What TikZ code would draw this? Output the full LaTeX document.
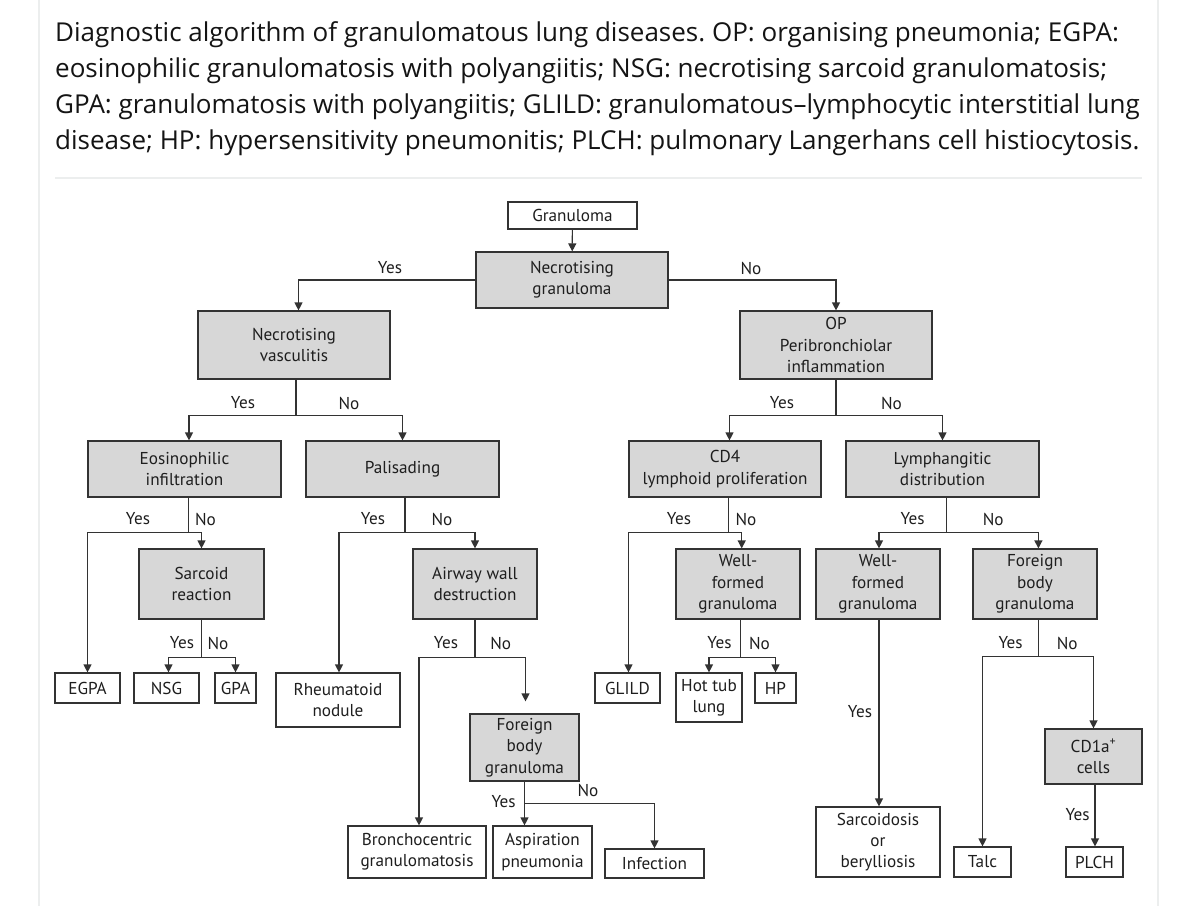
\documentclass[tikz,border=0pt]{standalone}
\usepackage{fontspec}
\setmainfont{Open Sans}
\newfontfamily\dfont{PT Sans}
\usetikzlibrary{arrows.meta}
\definecolor{boxgray}{HTML}{D7D7D7}
\definecolor{linec}{HTML}{333333}
\definecolor{txt}{HTML}{1E1E1E}
\definecolor{faint}{HTML}{ECEEEE}
\frenchspacing
\begin{document}
\begin{tikzpicture}[x=1pt,y=-1pt,
  box/.style={draw=linec, line width=1.2pt, inner sep=0pt, align=center, font=\dfont\fontsize{17.2}{21.3}\selectfont, text=txt},
  gbox/.style={box, fill=boxgray},
  wbox/.style={box, fill=white},
  arr/.style={draw=linec, line width=1.2pt, -{Triangle[width=8pt,length=8pt]}},
  lab/.style={font=\dfont\fontsize{17.2}{20}\selectfont, text=txt, inner sep=0pt},
  captxt/.style={font=\fontsize{26}{30}\selectfont, text=black!92, inner sep=0pt, anchor=base west}
]
\useasboundingbox (0,0) rectangle (1200,906);
\fill[white] (0,0) rectangle (1200,906);
% faint frame
\draw[faint, line width=1.5pt] (39,0) -- (39,906);
\draw[faint, line width=1.5pt] (1158,0) -- (1158,906);
\draw[faint, line width=1.5pt] (55,178) -- (1142,178);
% caption
\node[captxt] (c1) at (55,41) {Diagnostic algorithm of granulomatous lung diseases. OP: organising pneumonia; EGPA:};
\node[captxt] (c2) at (55,77) {eosinophilic granulomatosis with polyangiitis; NSG: necrotising sarcoid granulomatosis;};
\node[captxt] (c3) at (55,113) {GPA: granulomatosis with polyangiitis; GLILD: granulomatous–lymphocytic interstitial lung};
\node[captxt] (c4) at (55,149) {disease; HP: hypersensitivity pneumonitis; PLCH: pulmonary Langerhans cell histiocytosis.};
% nodes
\node[wbox, minimum width=129pt, minimum height=27pt] (gran) at (572.5,215.5) {Granuloma};
\node[gbox, minimum width=192pt, minimum height=56pt] (necg) at (572,280) {Necrotising\\granuloma};
\node[gbox, minimum width=192pt, minimum height=68pt] (necv) at (294,345) {Necrotising\\vasculitis};
\node[gbox, minimum width=192pt, minimum height=68pt] (op) at (836,345) {OP\\Peribronchiolar\\inflammation};
\node[gbox, minimum width=193pt, minimum height=56pt] (eos) at (184.5,469) {Eosinophilic\\infiltration};
\node[gbox, minimum width=193pt, minimum height=56pt] (pal) at (402.5,469) {Palisading};
\node[gbox, minimum width=192pt, minimum height=56pt] (cd4) at (725,469) {CD4\\lymphoid proliferation};
\node[gbox, minimum width=193pt, minimum height=56pt] (lym) at (942.5,469) {Lymphangitic\\distribution};
\node[gbox, minimum width=125pt, minimum height=70pt] (sar) at (201.5,584) {Sarcoid\\reaction};
\node[gbox, minimum width=124pt, minimum height=70pt] (air) at (475,584) {Airway wall\\destruction};
\node[gbox, minimum width=124pt, minimum height=70pt] (wf1) at (738,584) {Well-\\formed\\granuloma};
\node[gbox, minimum width=124pt, minimum height=70pt] (wf2) at (878,584) {Well-\\formed\\granuloma};
\node[gbox, minimum width=124pt, minimum height=70pt] (fb2) at (1035,584) {Foreign\\body\\granuloma};
\node[wbox, minimum width=65pt, minimum height=30pt] (egpa) at (87.5,688) {EGPA};
\node[wbox, minimum width=65pt, minimum height=30pt] (nsg) at (166.5,688) {NSG};
\node[wbox, minimum width=41pt, minimum height=30pt] (gpa) at (235.5,688) {GPA};
\node[wbox, minimum width=124pt, minimum height=54pt] (rheu) at (338,700) {Rheumatoid\\nodule};
\node[wbox, minimum width=65pt, minimum height=30pt] (glild) at (627.5,688) {GLILD};
\node[wbox, minimum width=66pt, minimum height=49pt] (hot) at (709,697.5) {Hot tub\\lung};
\node[wbox, minimum width=41pt, minimum height=30pt] (hp) at (775.5,688) {HP};
\node[gbox, minimum width=109pt, minimum height=67pt] (fb1) at (524.5,747.5) {Foreign\\body\\granuloma};
\node[gbox, minimum width=97pt, minimum height=55pt] (cd1a) at (1093.5,756.5) {CD1a\textsuperscript{+}\\cells};
\node[wbox, minimum width=138pt, minimum height=52pt] (bron) at (417,852) {Bronchocentric\\granulomatosis};
\node[wbox, minimum width=99pt, minimum height=52pt] (asp) at (542.5,852) {Aspiration\\pneumonia};
\node[wbox, minimum width=99pt, minimum height=29pt] (inf) at (654.5,863.5) {Infection};
\node[wbox, minimum width=124pt, minimum height=70pt] (sarc) at (878,842) {Sarcoidosis\\or\\berylliosis};
\node[wbox, minimum width=57pt, minimum height=30pt] (talc) at (982.5,862) {Talc};
\node[wbox, minimum width=57pt, minimum height=30pt] (plch) at (1094.5,862) {PLCH};
% connectors
\draw[arr] (gran) -- (necg);
\draw[arr] (necg.west) -| ([xshift=4.5pt]necv.north);
\draw[arr] (necg.east) -| (op.north);
\draw[arr] ([xshift=2pt]necv.south) -- ++(0,36) -| ([xshift=4.5pt]eos.north);
\draw[arr] ([xshift=2pt]necv.south) -- ++(0,36) -| (pal.north);
\draw[arr] (op.south) -- ++(0,36) -| ([xshift=4.5pt]cd4.north);
\draw[arr] (op.south) -- ++(0,36) -| (lym.north);
\draw[arr] ([xshift=4pt]eos.south) -- ++(0,35) -| (egpa.north);
\draw[arr] ([xshift=4pt]eos.south) -- ++(0,35) -| (sar.north);
\draw[arr] ([xshift=2.5pt]pal.south) -- ++(0,35) -| ([xshift=1pt]rheu.north);
\draw[arr] ([xshift=2.5pt]pal.south) -- ++(0,35) -| (air.north);
\draw[arr] ([xshift=3.7pt]cd4.south) -- ++(0,35) -| ([xshift=1pt]glild.north);
\draw[arr] ([xshift=3.7pt]cd4.south) -- ++(0,35) -| ([xshift=3.7pt]wf1.north);
\draw[arr] ([xshift=3.8pt]lym.south) -- ++(0,35) -| ([xshift=1pt]wf2.north);
\draw[arr] ([xshift=3.8pt]lym.south) -- ++(0,35) -| ([xshift=3.4pt]fb2.north);
\draw[arr] (sar.south) -- ++(0,38) -| ([xshift=2pt]nsg.north);
\draw[arr] (sar.south) -- ++(0,38) -| (gpa.north);
\draw[arr] (air.south) -- ++(0,38) -| ([xshift=2pt]bron.north);
\draw[arr] (air.south) -- ++(0,38) -| ([xshift=1pt,yshift=12pt]fb1.north);
\draw[arr] ([xshift=2.6pt]wf1.south) -- ++(0,38) -| (hot.north);
\draw[arr] ([xshift=2.6pt]wf1.south) -- ++(0,38) -| (hp.north);
\draw[arr] ([xshift=1pt]wf2.south) -- ([xshift=1pt]sarc.north);
\draw[arr] ([xshift=3.4pt]fb2.south) -- ++(0,37) -| (talc.north);
\draw[arr] ([xshift=3.4pt]fb2.south) -- ++(0,37) -| (cd1a.north);
\draw[arr] (fb1.south) -- (fb1.south |- asp.north);
\draw[arr] (fb1.south) -- ++(0,21.5) -| (inf.north);
\draw[arr] ([xshift=1.5pt]cd1a.south) -- ([xshift=0.5pt]plch.north);
% labels
\node[lab] (l1) at (390,268) {Yes};
\node[lab] (l2) at (751,268) {No};
\node[lab] (l3) at (243,403) {Yes};
\node[lab] (l4) at (349,403) {No};
\node[lab] (l5) at (782,403) {Yes};
\node[lab] (l6) at (891.5,403) {No};
\node[lab] (l7) at (138,519) {Yes};
\node[lab] (l8) at (205.4,519) {No};
\node[lab] (l9) at (373,519) {Yes};
\node[lab] (l10) at (442,519) {No};
\node[lab] (l11) at (679,519) {Yes};
\node[lab] (l12) at (746,519) {No};
\node[lab] (l13) at (912.6,519) {Yes};
\node[lab] (l14) at (993.3,519) {No};
\node[lab] (l15) at (182,643) {Yes};
\node[lab] (l16) at (218,643) {No};
\node[lab] (l17) at (446,643) {Yes};
\node[lab] (l18) at (500.7,643) {No};
\node[lab] (l19) at (719.5,643) {Yes};
\node[lab] (l20) at (759.4,643) {No};
\node[lab] (l21) at (1010.6,643) {Yes};
\node[lab] (l22) at (1067.2,643) {No};
\node[lab] (l23) at (503.6,801.7) {Yes};
\node[lab] (l24) at (588,790) {No};
\node[lab] (l25) at (860,711.7) {Yes};
\node[lab] (l26) at (1077.6,815) {Yes};
\end{tikzpicture}
\end{document}
